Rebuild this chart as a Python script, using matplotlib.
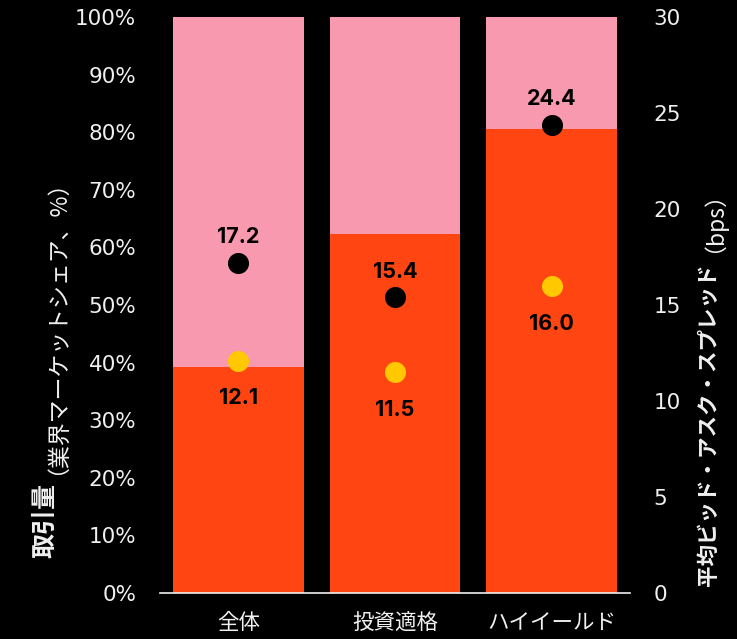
import numpy as np
import matplotlib.pyplot as plt

plt.rcParams['font.family'] = ['Noto Sans CJK JP', 'DejaVu Sans']

categories = ["全体", "投資適格", "ハイイールド"]
share = [39.2, 62.4, 80.5]          # 取引量シェア (%)
spread_black = [17.2, 15.4, 24.4]   # bps
spread_yellow = [12.1, 11.5, 16.0]  # bps

orange = "#FF4512"
pink = "#F899B0"
yellow = "#FFC800"
white = "#F0F0F0"
num_font = ["DejaVu Sans"]

fig = plt.figure(figsize=(7.37, 6.39), dpi=100, facecolor="black")
ax = fig.add_axes([160 / 737, 1 - 593 / 639, 470 / 737, 576 / 639])
ax.set_facecolor("black")
x = np.arange(len(categories))

rest = [100 - s for s in share]
ax.bar(x, share, width=0.836, color=orange, zorder=2)
ax.bar(x, rest, bottom=share, width=0.836, color=pink, zorder=2)

ax.set_xlim(-0.5, 2.5)
ax.set_ylim(0, 100)
ax.set_yticks(np.arange(0, 101, 10))
ax.set_yticklabels([f"{v}%" for v in range(0, 101, 10)], family=num_font, fontsize=15.5)
ax.set_xticks(x)
ax.set_xticklabels(categories, fontsize=15.5)
ax.tick_params(colors=white, length=0)
ax.tick_params(axis="y", pad=17)
ax.tick_params(axis="x", pad=14)
for s in ["top", "left", "right"]:
    ax.spines[s].set_visible(False)
ax.spines["bottom"].set_color(white)
ax.spines["bottom"].set_linewidth(1.2)

ax2 = ax.twinx()
ax2.set_ylim(0, 30)
ax2.set_yticks(np.arange(0, 31, 5))
ax2.set_yticklabels([str(v) for v in range(0, 31, 5)], family=num_font, fontsize=15.5)
ax2.tick_params(colors=white, length=0, pad=17)
for s in ax2.spines.values():
    s.set_visible(False)

ax2.scatter(x, spread_black, s=200, color="black", zorder=4)
ax2.scatter(x, spread_yellow, s=200, color=yellow, zorder=4)
for xi, v in zip(x, spread_black):
    ax2.annotate(f"{v:.1f}", (xi, v), xytext=(0, 11), textcoords="offset points",
                 ha="center", va="bottom", fontsize=15.5, fontweight="bold", color="black",
                 family=["Inter", "DejaVu Sans"])
for xi, v in zip(x, spread_yellow):
    ax2.annotate(f"{v:.1f}", (xi, v), xytext=(0, -20), textcoords="offset points",
                 ha="center", va="top", fontsize=15.5, fontweight="bold", color="black",
                 family=["Inter", "DejaVu Sans"])


# 軸ラベル：太字部分の上に通常部分をつなげる
def split_label(xpx, ybottom_px, bold_part, normal_part, bold_size, normal_size, gap, dx=0):
    t = fig.text(xpx / 737, 1 - ybottom_px / 639, bold_part, rotation=90,
                 ha="center", va="bottom", fontsize=bold_size, fontweight="bold",
                 color=white)
    r = fig.canvas.get_renderer()
    bb = t.get_window_extent(r)
    fig.text((xpx + dx) / 737, (bb.y1 + gap) / 639, normal_part, rotation=90,
             ha="center", va="bottom", fontsize=normal_size, color=white)


split_label(45, 558, "取引量", "（業界マーケットシェア、%）", 18, 16.5, 8)
split_label(708, 586, "平均ビッド・アスク・スプレッド", "（bps）", 15.5, 16.5, 10, dx=-6)

fig.savefig("out.png", facecolor="black")
